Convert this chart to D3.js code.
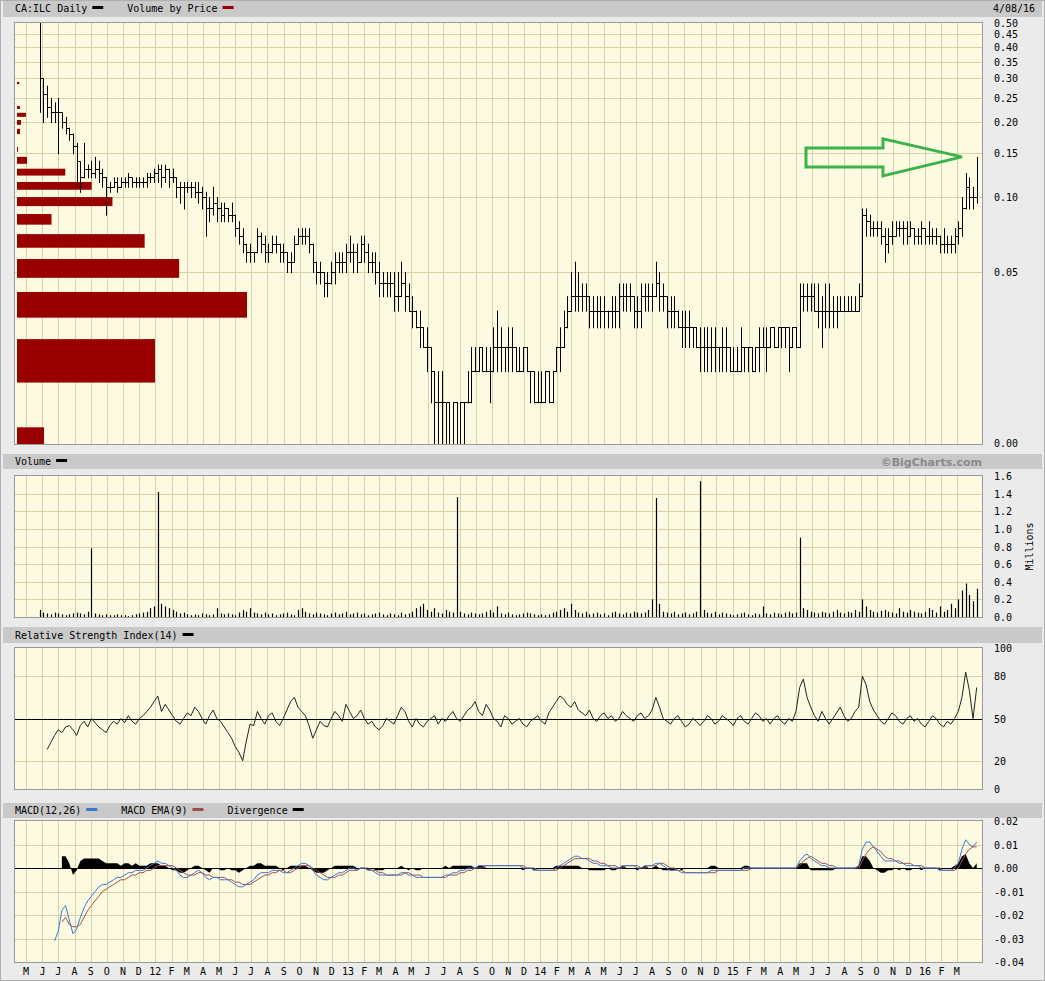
<!DOCTYPE html>
<html><head><meta charset="utf-8">
<script src="https://cdn.jsdelivr.net/npm/d3@7"></script>
<style>
body{margin:0;background:#ebebeb;}
svg{display:block;}
text{font-family:"DejaVu Sans Mono",monospace;font-size:10px;fill:#000;}
</style></head>
<body><svg id="chart" width="1045" height="981"></svg>
<script>
// ---------- DATA (weekly, first week ends 2011-05-27) ----------
const firstWeek = new Date(2011, 4, 27);
const lastDate = "4/08/16";
const symbolTitle = "CA:ILC Daily";

const priceHigh = [
.50,.30,.28,.25,.24,.25,.21,.21,.19,.18,
.165,.135,.165,.135,.14,.145,.14,.13,.12,.115,
.12,.12,.12,.12,.125,.12,.12,.12,.12,.125,
.125,.13,.135,.135,.135,.13,.13,.12,.115,.115,
.115,.115,.115,.115,.11,.105,.10,.11,.10,.095,
.095,.09,.095,.085,.08,.075,.065,.065,.06,.075,
.072,.07,.065,.07,.07,.065,.065,.06,.06,.07,
.075,.075,.075,.075,.065,.055,.055,.05,.05,.055,
.06,.06,.06,.065,.07,.065,.065,.07,.07,.065,
.06,.06,.055,.05,.05,.05,.05,.05,.055,.05,
.045,.04,.035,.035,.03,.03,.025,.02,.02,.02,
.015,.015,.015,.015,.015,.015,.02,.025,.025,.025,
.025,.025,.025,.03,.035,.03,.025,.03,.03,.025,
.025,.025,.025,.02,.02,.02,.02,.02,.02,.02,
.025,.03,.035,.04,.05,.055,.05,.045,.045,.04,
.04,.04,.04,.04,.035,.04,.04,.045,.045,.045,
.045,.04,.04,.045,.045,.045,.045,.055,.05,.045,
.04,.04,.04,.035,.035,.035,.035,.03,.03,.03,
.03,.03,.03,.03,.025,.03,.03,.025,.025,.025,
.03,.025,.025,.025,.025,.03,.03,.03,.03,.03,
.03,.03,.03,.03,.03,.03,.045,.045,.045,.045,
.045,.045,.04,.045,.045,.04,.04,.04,.04,.04,
.04,.04,.045,.09,.09,.085,.08,.08,.08,.075,
.075,.08,.08,.08,.08,.08,.08,.075,.075,.08,
.075,.08,.075,.075,.07,.075,.07,.07,.075,.08,
.10,.125,.12,.11,.145];

const priceLow = [
.22,.20,.21,.20,.20,.15,.19,.18,.17,.15,
.11,.105,.12,.12,.12,.12,.115,.11,.085,.105,
.11,.105,.11,.11,.11,.11,.11,.11,.11,.11,
.115,.115,.115,.11,.115,.11,.115,.10,.095,.09,
.105,.10,.10,.095,.09,.07,.08,.085,.08,.08,
.08,.08,.08,.07,.065,.06,.055,.055,.055,.06,
.06,.055,.055,.06,.06,.055,.055,.05,.05,.055,
.065,.065,.065,.06,.05,.045,.045,.04,.04,.045,
.045,.05,.05,.05,.055,.05,.05,.055,.055,.05,
.05,.045,.04,.04,.04,.04,.035,.035,.04,.035,
.035,.03,.03,.025,.025,.02,.015,.01,.01,.01,
.01,.01,.01,.01,.01,.01,.015,.015,.02,.02,
.02,.02,.015,.02,.02,.02,.02,.02,.02,.02,
.02,.02,.02,.015,.015,.015,.015,.015,.015,.015,
.02,.02,.025,.03,.035,.035,.035,.035,.035,.03,
.03,.03,.03,.03,.03,.03,.03,.03,.035,.035,
.035,.03,.03,.03,.035,.035,.035,.04,.035,.035,
.03,.03,.03,.03,.025,.025,.025,.025,.025,.02,
.02,.02,.02,.02,.02,.02,.02,.02,.02,.02,
.02,.02,.02,.02,.02,.02,.025,.02,.025,.025,
.025,.025,.025,.02,.025,.025,.025,.035,.035,.035,
.035,.03,.025,.03,.03,.03,.03,.035,.035,.035,
.035,.035,.035,.04,.07,.07,.07,.07,.065,.055,
.06,.065,.07,.07,.065,.065,.07,.065,.065,.065,
.065,.065,.065,.065,.06,.06,.06,.06,.06,.065,
.07,.09,.09,.09,.095];

const priceClose = [
.30,.26,.23,.22,.22,.22,.20,.19,.18,.16,
.14,.12,.13,.13,.125,.13,.125,.12,.11,.11,
.115,.11,.115,.115,.12,.115,.115,.115,.115,.12,
.12,.125,.13,.12,.13,.12,.12,.11,.11,.11,
.11,.11,.105,.105,.10,.09,.09,.095,.09,.085,
.09,.085,.085,.075,.07,.065,.06,.06,.06,.07,
.065,.06,.06,.065,.065,.06,.06,.055,.055,.065,
.07,.07,.07,.065,.055,.05,.05,.045,.045,.05,
.055,.055,.055,.06,.06,.06,.055,.065,.06,.055,
.055,.05,.045,.045,.045,.045,.04,.04,.045,.04,
.035,.035,.03,.03,.025,.025,.02,.015,.015,.015,
.015,.01,.015,.01,.015,.015,.015,.02,.02,.025,
.02,.02,.02,.025,.025,.025,.025,.025,.025,.02,
.02,.025,.02,.02,.015,.015,.015,.02,.015,.02,
.025,.025,.03,.035,.04,.04,.04,.04,.04,.035,
.035,.035,.035,.035,.035,.035,.035,.04,.04,.04,
.04,.035,.035,.04,.04,.04,.04,.045,.04,.04,
.035,.035,.035,.03,.03,.03,.03,.03,.025,.025,
.025,.025,.025,.025,.025,.025,.025,.02,.02,.02,
.025,.025,.025,.02,.025,.025,.025,.025,.03,.025,
.03,.03,.03,.025,.03,.025,.04,.04,.04,.04,
.035,.035,.035,.035,.035,.035,.035,.035,.035,.035,
.035,.035,.04,.085,.08,.075,.075,.075,.07,.065,
.07,.07,.075,.075,.075,.07,.075,.07,.07,.075,
.07,.07,.07,.07,.065,.065,.065,.065,.07,.075,
.09,.11,.10,.10,.14];

// volume in millions
const volume = [
.08,.05,.04,.03,.05,.04,.03,.02,.03,.04,
.05,.04,.03,.06,.78,.04,.03,.02,.03,.02,
.02,.03,.02,.02,.01,.02,.03,.04,.05,.06,
.10,.12,1.42,.15,.12,.10,.08,.06,.04,.05,
.03,.02,.03,.02,.04,.03,.02,.03,.10,.04,
.03,.04,.03,.02,.05,.08,.06,.10,.05,.04,
.03,.05,.03,.04,.02,.03,.04,.05,.03,.02,
.08,.10,.06,.04,.03,.05,.04,.03,.02,.04,
.05,.03,.04,.06,.03,.04,.05,.03,.04,.02,
.03,.04,.05,.03,.02,.04,.03,.02,.05,.03,
.04,.06,.10,.12,.15,.08,.06,.10,.05,.04,
.08,.06,.05,1.36,.06,.04,.03,.05,.04,.03,
.04,.06,.08,.05,.12,.04,.03,.05,.03,.02,
.03,.04,.05,.04,.03,.02,.03,.02,.03,.05,
.06,.08,.10,.06,.15,.08,.05,.04,.06,.03,
.04,.05,.03,.04,.02,.05,.06,.04,.03,.05,
.04,.06,.05,.04,.05,.08,.20,1.35,.15,.06,
.05,.04,.06,.03,.04,.05,.03,.04,.06,1.54,
.08,.05,.04,.06,.03,.05,.04,.03,.02,.03,
.04,.05,.03,.02,.04,.03,.12,.04,.03,.05,
.04,.03,.05,.06,.04,.05,.90,.10,.08,.06,
.05,.04,.06,.05,.04,.06,.08,.05,.04,.06,
.05,.08,.06,.20,.12,.08,.06,.05,.07,.08,
.06,.05,.04,.10,.06,.05,.08,.06,.05,.04,
.06,.10,.08,.05,.12,.06,.08,.15,.10,.20,
.30,.38,.25,.18,.32];

const rsi = [
null,null,28,33,38,42,40,44,45,42,
38,45,48,44,50,47,44,42,40,45,
48,46,50,47,52,48,46,50,52,55,
58,62,66,55,60,56,52,48,46,50,
54,52,58,55,50,46,52,56,50,48,
44,40,36,30,26,20,34,46,45,55,
50,46,52,54,48,45,50,56,62,65,
58,55,52,45,36,42,48,45,44,50,
55,52,48,60,55,50,52,56,50,46,
48,44,42,45,50,48,46,52,58,55,
48,44,50,46,44,48,50,52,46,50,
48,52,55,50,48,52,56,58,62,55,
52,60,56,50,48,44,52,50,46,48,
50,46,44,48,50,52,48,46,54,58,
62,66,64,60,58,62,56,54,52,56,
50,48,52,54,50,52,48,50,55,52,
50,48,52,54,50,52,56,65,58,50,
48,46,50,52,48,44,46,50,48,45,
48,52,50,46,48,52,50,48,45,50,
52,48,46,50,54,52,48,50,46,50,
52,48,46,50,48,55,72,78,65,58,
52,48,55,50,46,50,54,58,52,48,
50,55,58,80,74,62,56,52,48,46,
50,54,52,48,46,50,52,48,50,46,
44,48,52,50,46,44,48,46,50,55,
65,83,70,50,72];

const macd = [
null,null,null,null,-.031,-.027,-.018,-.016,-.022,-.028,
-.026,-.021,-.017,-.014,-.012,-.010,-.008,-.007,-.007,-.006,
-.005,-.004,-.004,-.003,-.002,-.002,-.001,-.001,-.001,0,
.001,.002,.003,.002,.002,.001,0,-.001,-.003,-.004,
-.004,-.003,-.002,-.001,-.002,-.004,-.005,-.004,-.004,-.005,
-.005,-.005,-.006,-.007,-.008,-.008,-.007,-.006,-.005,-.003,
-.002,-.002,-.002,-.001,-.001,-.001,-.002,-.002,-.001,0,
.001,.002,.002,.001,-.001,-.003,-.004,-.005,-.005,-.004,
-.003,-.002,-.002,-.001,0,0,-.001,0,0,-.001,
-.001,-.002,-.003,-.003,-.003,-.003,-.003,-.003,-.002,-.002,
-.003,-.003,-.004,-.004,-.004,-.004,-.004,-.004,-.004,-.004,
-.003,-.003,-.002,-.002,-.001,-.001,0,0,0,.001,
.001,.001,.001,.001,.001,.001,.001,.001,.001,.001,
.001,0,0,0,-.001,-.001,-.001,-.001,-.001,-.001,
0,.001,.002,.003,.004,.005,.005,.004,.004,.003,
.002,.002,.001,.001,.001,0,0,0,.001,.001,
.001,.001,0,0,.001,.001,.001,.002,.002,.001,
0,-.001,-.001,-.001,-.002,-.002,-.002,-.002,-.002,-.002,
-.002,-.002,-.001,-.001,-.001,-.001,-.001,-.001,-.001,-.001,
-.001,0,0,0,0,0,0,0,0,0,
0,0,0,0,0,0,.003,.005,.006,.004,
.003,.002,.001,.001,0,0,0,0,0,0,
0,0,.001,.008,.011,.011,.009,.007,.005,.003,
.003,.003,.003,.002,.002,.001,.001,.001,.001,0,
0,0,0,0,-.001,-.001,-.001,-.001,0,.002,
.008,.012,.010,.009,.011];

const macdSignal = [
null,null,null,null,null,null,-.023,-.021,-.024,-.025,
-.025,-.024,-.021,-.018,-.016,-.014,-.012,-.010,-.009,-.008,
-.007,-.006,-.005,-.005,-.004,-.003,-.003,-.002,-.002,-.001,
-.001,0,.001,.001,.001,.001,.001,0,-.001,-.002,
-.003,-.003,-.003,-.002,-.002,-.003,-.003,-.004,-.004,-.004,
-.004,-.005,-.005,-.006,-.006,-.007,-.007,-.007,-.006,-.005,
-.004,-.003,-.003,-.002,-.002,-.001,-.001,-.002,-.002,-.001,
0,.001,.001,.001,0,-.001,-.002,-.003,-.004,-.004,
-.004,-.003,-.003,-.002,-.001,-.001,-.001,0,0,0,
-.001,-.001,-.002,-.002,-.003,-.003,-.003,-.003,-.003,-.002,
-.002,-.003,-.003,-.003,-.004,-.004,-.004,-.004,-.004,-.004,
-.004,-.003,-.003,-.003,-.002,-.002,-.001,-.001,0,0,
0,.001,.001,.001,.001,.001,.001,.001,.001,.001,
.001,.001,0,0,0,-.001,-.001,-.001,-.001,-.001,
-.001,0,.001,.002,.003,.004,.004,.004,.004,.004,
.003,.003,.002,.002,.001,.001,.001,0,0,.001,
.001,.001,.001,0,0,.001,.001,.001,.002,.002,
.001,0,0,-.001,-.001,-.002,-.002,-.002,-.002,-.002,
-.002,-.002,-.002,-.002,-.001,-.001,-.001,-.001,-.001,-.001,
-.001,-.001,-.001,0,0,0,0,0,0,0,
0,0,0,0,0,0,.001,.003,.004,.005,
.004,.003,.002,.002,.001,.001,0,0,0,0,
0,0,0,.003,.006,.008,.009,.008,.007,.005,
.004,.004,.003,.003,.002,.002,.002,.001,.001,.001,
0,0,0,0,0,-.001,-.001,-.001,-.001,0,
.003,.006,.008,.009,.009];

// Volume by price: price band (low/high) and volume in millions
const vbpLow  = [.284,.226,.210,.195,.179,.152,.136,.122,.107,.092,.0775,.0626,.0474,.0328,.0180,.0102];
const vbpHigh = [.290,.232,.218,.204,.188,.159,.145,.130,.115,.100,.0855,.0710,.0564,.0416,.0269,.0119];
const vbpVol  = [0.20,0.26,0.78,0.35,0.26,0.09,0.87,4.2,6.5,8.3,3.0,11.1,14.1,20.0,12.0,2.35];

const priceTicks = [0.50,0.45,0.40,0.35,0.30,0.25,0.20,0.15,0.10,0.05];
const volumeTicks = [0,0.2,0.4,0.6,0.8,1.0,1.2,1.4,1.6];
const rsiTicks = [0,20,50,80,100];
const rsiGrid = [20,80];
const macdTicks = [0.02,0.01,0,-0.01,-0.02,-0.03,-0.04];
const monthNames = ["J","F","M","A","M","J","J","A","S","O","N","D"];

// ---------- LAYOUT ----------
const svg = d3.select("#chart");
const L = 15, R = 982, labelX = 994;
const P = {price:[23,444], vol:[476,617], rsi:[648,789], macd:[821,962]};
const headers = [[1,16,"price"],[454,15,"vol"],[627,16,"rsi"],[803,15,"macd"]];
const plotBg = "#fcfbe1", gridC = "#d6d2a6";

const dates = priceClose.map((d,i)=>d3.timeDay.offset(firstWeek, 7*i));
const x = d3.scaleTime().domain([new Date(2011,3,10), new Date(2016,3,18)]).range([L,R]);
const yP = d3.scaleLog().domain([0.0102,0.5]).range([P.price[1],P.price[0]]).clamp(true);
const yV = d3.scaleLinear().domain([0,1.6]).range([P.vol[1],P.vol[0]]);
const yR = d3.scaleLinear().domain([0,100]).range([P.rsi[1],P.rsi[0]]);
const yM = d3.scaleLinear().domain([-0.04,0.02]).range([P.macd[1],P.macd[0]]);
const xVbp = d3.scaleLinear().domain([0,20]).range([0,230]);

// outer frame
svg.append("rect").attr("x",0.5).attr("y",0.5).attr("width",1044).attr("height",980)
  .attr("fill","#ebebeb").attr("stroke","#b0b0b0");

// header bars
headers.forEach(([y,h])=>{
  svg.append("rect").attr("x",3).attr("y",y).attr("width",1039).attr("height",h).attr("fill","#c9c9c9");
});

// plot backgrounds + grids
const months = d3.timeMonth.range(new Date(2011,4,1), new Date(2016,3,1));
Object.entries(P).forEach(([k,[y0,y1]])=>{
  svg.append("rect").attr("x",L).attr("y",y0).attr("width",R-L).attr("height",y1-y0).attr("fill",plotBg);
  svg.append("g").selectAll("line").data(months).join("line")
    .attr("x1",d=>Math.round(x(d))+0.5).attr("x2",d=>Math.round(x(d))+0.5)
    .attr("y1",y0).attr("y2",y1).attr("stroke",gridC);
});
function hgrid(vals, scale){
  svg.append("g").selectAll("line").data(vals).join("line")
    .attr("x1",L).attr("x2",R).attr("y1",d=>Math.round(scale(d))+0.5).attr("y2",d=>Math.round(scale(d))+0.5)
    .attr("stroke",gridC);
}
hgrid(priceTicks.slice(1), yP);
hgrid(volumeTicks.slice(1,-1), yV);
hgrid(rsiGrid, yR);
hgrid(macdTicks.filter(d=>d!==0 && d!==0.02 && d!==-0.04), yM);

// ---------- PRICE ----------
const gP = svg.append("g");
gP.selectAll("rect.vbp").data(vbpVol).join("rect")
  .attr("x",L+2).attr("y",(d,i)=>yP(vbpHigh[i])).attr("width",d=>xVbp(d))
  .attr("height",(d,i)=>Math.max(2,yP(vbpLow[i])-yP(vbpHigh[i]))).attr("fill","#990000");
const stepLine = d3.line().x((d,i)=>Math.round(x(dates[i]))+0.5).y(d=>Math.round(yP(d))+0.5).curve(d3.curveStepAfter);
gP.append("path").attr("d",stepLine(priceClose)).attr("fill","none").attr("stroke","#000").attr("stroke-width",1);
gP.selectAll("line.bar").data(priceClose).join("line")
  .attr("x1",(d,i)=>Math.round(x(dates[i]))+0.5).attr("x2",(d,i)=>Math.round(x(dates[i]))+0.5)
  .attr("y1",(d,i)=>yP(priceHigh[i])).attr("y2",(d,i)=>yP(priceLow[i])+1)
  .attr("stroke","#000").attr("stroke-width",1);

// arrow annotation pointing at the latest spike
{
  const tx = x(dates[250]), ty = yP(0.145);
  const pts = [[tx,ty],[tx-79,ty-18],[tx-79,ty-9],[tx-156,ty-9],[tx-156,ty+10],[tx-79,ty+10],[tx-79,ty+19]];
  gP.append("path").attr("d","M"+pts.map(p=>p.join(",")).join("L")+"Z")
    .attr("fill","none").attr("stroke","#3cb34a").attr("stroke-width",3).attr("stroke-linejoin","miter");
}

// ---------- VOLUME ----------
svg.append("g").selectAll("line").data(volume).join("line")
  .attr("x1",(d,i)=>Math.round(x(dates[i]))+0.5).attr("x2",(d,i)=>Math.round(x(dates[i]))+0.5)
  .attr("y1",yV(0)).attr("y2",d=>yV(d)).attr("stroke","#000").attr("stroke-width",1.2);

// ---------- RSI ----------
svg.append("line").attr("x1",L).attr("x2",R).attr("y1",Math.round(yR(50))+0.5).attr("y2",Math.round(yR(50))+0.5).attr("stroke","#000");
svg.append("path").attr("d",d3.line().defined(d=>d!==null).x((d,i)=>x(dates[i])).y(d=>yR(d))(rsi))
  .attr("fill","none").attr("stroke","#222").attr("stroke-width",1);

// ---------- MACD ----------
const diverg = macd.map((d,i)=> (d===null||macdSignal[i]===null)?null:d-macdSignal[i]);
svg.append("path").attr("d",d3.area().defined(d=>d!==null).x((d,i)=>x(dates[i])).y0(yM(0)).y1(d=>yM(d))(diverg))
  .attr("fill","#000");
svg.append("line").attr("x1",L).attr("x2",R).attr("y1",Math.round(yM(0))+0.5).attr("y2",Math.round(yM(0))+0.5).attr("stroke","#000");
svg.append("path").attr("d",d3.line().defined(d=>d!==null).x((d,i)=>x(dates[i])).y(d=>yM(d))(macdSignal))
  .attr("fill","none").attr("stroke","#a34e4e").attr("stroke-width",1);
svg.append("path").attr("d",d3.line().defined(d=>d!==null).x((d,i)=>x(dates[i])).y(d=>yM(d))(macd))
  .attr("fill","none").attr("stroke","#3a78d0").attr("stroke-width",1);

// plot borders
Object.values(P).forEach(([y0,y1])=>{
  svg.append("rect").attr("x",L-0.5).attr("y",y0-0.5).attr("width",R-L+1).attr("height",y1-y0+1)
    .attr("fill","none").attr("stroke","#9a9a9a");
});

// ---------- AXES LABELS ----------
function yLabels(vals, scale, fmt){
  svg.append("g").selectAll("text").data(vals).join("text")
    .attr("x",labelX).attr("y",d=>scale(d)+4).text(fmt);
}
yLabels(priceTicks, yP, d=>d3.format(".2f")(d));
svg.append("text").attr("x",labelX).attr("y",P.price[1]+3).text("0.00");
yLabels(volumeTicks, yV, d=>d3.format(".1f")(d));
yLabels(rsiTicks, yR, d=>d);
yLabels(macdTicks, yM, d=>d3.format(".2f")(d).replace("\u2212","-"));
svg.append("text").attr("transform",`translate(1033,${(P.vol[0]+P.vol[1])/2}) rotate(-90)`)
  .attr("text-anchor","middle").text("Millions");

// month labels
svg.append("g").selectAll("text").data(months).join("text")
  .attr("x",d=>x(d)).attr("y",975).attr("text-anchor","middle")
  .text(d=>d.getMonth()===0 ? d3.timeFormat("%y")(d) : monthNames[d.getMonth()]);

// ---------- HEADERS ----------
function legend(y, items){
  let cx = 15;
  items.forEach(([label,color])=>{
    const t = svg.append("text").attr("x",cx).attr("y",y).text(label);
    const w = t.node().getComputedTextLength();
    cx += w + 5;
    svg.append("rect").attr("x",cx).attr("y",y-6).attr("width",11).attr("height",3).attr("fill",color);
    cx += 11 + 24;
  });
}
legend(12, [[symbolTitle,"#000"],["Volume by Price","#990000"]]);
svg.append("text").attr("x",993).attr("y",12).text(lastDate);
legend(465, [["Volume","#000"]]);
svg.append("text").attr("x",R).attr("y",466).attr("text-anchor","end")
  .style("font-family","'DejaVu Sans',sans-serif").style("font-weight","bold").style("font-size","11px")
  .style("fill","#8a8a8a").text("\u00A9BigCharts.com");
legend(639, [["Relative Strength Index(14)","#000"]]);
legend(814, [["MACD(12,26)","#3a78d0"],["MACD EMA(9)","#a34e4e"],["Divergence","#000"]]);
</script></body></html>
